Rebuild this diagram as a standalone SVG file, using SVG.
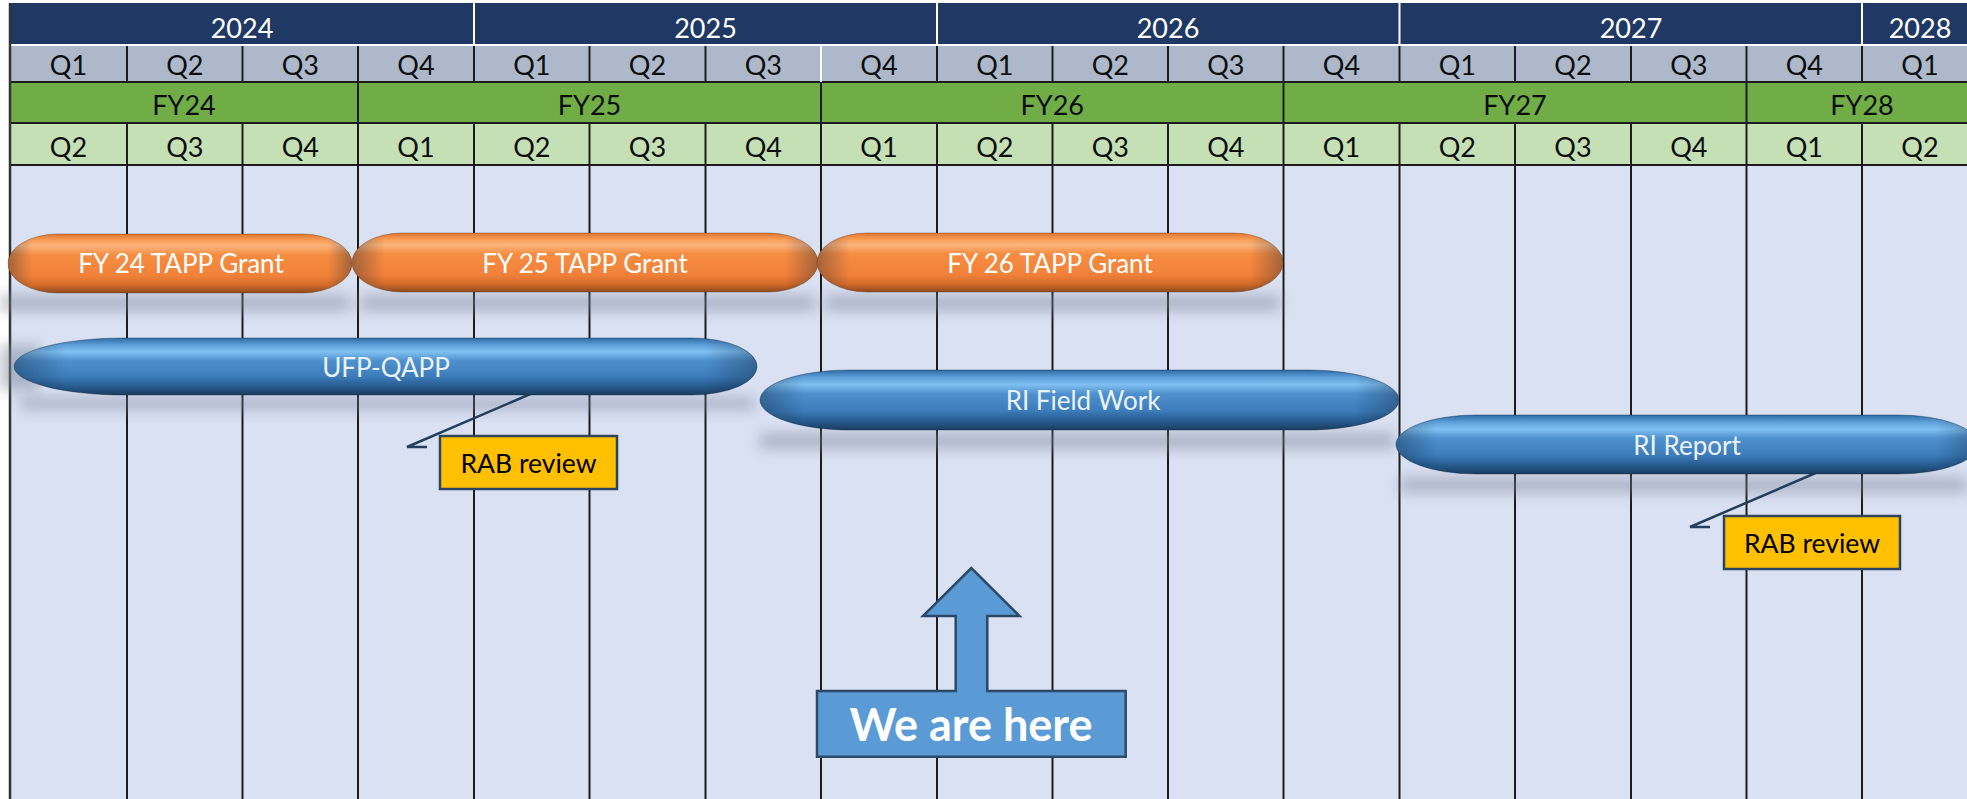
<svg xmlns="http://www.w3.org/2000/svg" width="1967" height="799" viewBox="0 0 1967 799">
<style>
.hdr{font-family:Lato,"Open Sans","DejaVu Sans",sans-serif;font-size:27px;text-anchor:middle;fill:#0d0d0d}
.yr{fill:#ffffff}
.pt{font-family:Lato,"Open Sans","DejaVu Sans",sans-serif;font-size:26px;text-anchor:middle;fill:#ffffff}
.bt{fill:#eaf3fb}
.rab{fill:#ffc000;stroke:#2c4560;stroke-width:2.5}
.rt{font-family:Lato,"Open Sans","DejaVu Sans",sans-serif;font-size:26.5px;text-anchor:middle;fill:#000}
.vl{stroke:#1c1c1c;stroke-width:2}
.wl{stroke:#ffffff;stroke-width:2}
.co{fill:none;stroke:#22405e;stroke-width:2.5;stroke-linejoin:miter}
.ends{fill:url(#ends)}
.rim{fill:none;stroke:#5a2e10;stroke-opacity:0.35;stroke-width:1}
.rimb{fill:none;stroke:#0f2740;stroke-opacity:0.4;stroke-width:1}
.sh{fill:#7d879c;opacity:0.5;filter:url(#blur)}
</style>
<defs>
<linearGradient id="og" x1="0" y1="0" x2="0" y2="1">
<stop offset="0" stop-color="#dd7632"/>
<stop offset="0.1" stop-color="#f99a52"/>
<stop offset="0.2" stop-color="#fcb47c"/>
<stop offset="0.36" stop-color="#f68c40"/>
<stop offset="0.7" stop-color="#f2823a"/>
<stop offset="0.86" stop-color="#d56c2b"/>
<stop offset="1" stop-color="#8e4a1e"/>
</linearGradient>
<linearGradient id="bg" x1="0" y1="0" x2="0" y2="1">
<stop offset="0" stop-color="#2c6aa6"/>
<stop offset="0.12" stop-color="#5d9fd8"/>
<stop offset="0.24" stop-color="#80c0f2"/>
<stop offset="0.4" stop-color="#4e90cd"/>
<stop offset="0.68" stop-color="#3c7cba"/>
<stop offset="0.86" stop-color="#26598c"/>
<stop offset="1" stop-color="#1a3c5e"/>
</linearGradient>
<linearGradient id="ends" x1="0" y1="0" x2="1" y2="0">
<stop offset="0" stop-color="#0b1e33" stop-opacity="0.35"/>
<stop offset="0.07" stop-color="#0b1e33" stop-opacity="0"/>
<stop offset="0.93" stop-color="#0b1e33" stop-opacity="0"/>
<stop offset="1" stop-color="#0b1e33" stop-opacity="0.35"/>
</linearGradient>
<filter id="blur" x="-10%" y="-100%" width="120%" height="300%">
<feGaussianBlur stdDeviation="7"/>
</filter>
</defs>

<g id="grid">
<rect x="10" y="3" width="1957" height="796" fill="#dae1f2"/>
<rect x="10" y="3" width="1957" height="42" fill="#203864"/>
<rect x="10" y="45" width="1957" height="37" fill="#adb9ca"/>
<rect x="10" y="82" width="1957" height="41" fill="#70ad47"/>
<rect x="10" y="123" width="1957" height="42" fill="#c5e0b4"/>
<line class="wl" x1="10" y1="45" x2="1967" y2="45"/>
<g class="wl">
<line x1="474" y1="3" x2="474" y2="45"/>
<line x1="937" y1="3" x2="937" y2="45"/>
<line x1="1399.5" y1="3" x2="1399.5" y2="45"/>
<line x1="1862" y1="3" x2="1862" y2="45"/>
</g>
<line class="vl" x1="10" y1="82" x2="1967" y2="82"/>
<line class="vl" x1="10" y1="123" x2="1967" y2="123"/>
<line class="vl" x1="10" y1="165" x2="1967" y2="165"/>
<g class="vl">
<line x1="127" y1="46" x2="127" y2="82"/>
<line x1="242.5" y1="46" x2="242.5" y2="82"/>
<line x1="358" y1="46" x2="358" y2="82"/>
<line x1="474" y1="46" x2="474" y2="82"/>
<line x1="589.5" y1="46" x2="589.5" y2="82"/>
<line x1="705.5" y1="46" x2="705.5" y2="82"/>
<line x1="937" y1="46" x2="937" y2="82"/>
<line x1="1052.5" y1="46" x2="1052.5" y2="82"/>
<line x1="1168" y1="46" x2="1168" y2="82"/>
<line x1="1283.5" y1="46" x2="1283.5" y2="82"/>
<line x1="1399.5" y1="46" x2="1399.5" y2="82"/>
<line x1="1515" y1="46" x2="1515" y2="82"/>
<line x1="1631" y1="46" x2="1631" y2="82"/>
<line x1="1746.5" y1="46" x2="1746.5" y2="82"/>
<line x1="1862" y1="46" x2="1862" y2="82"/>
<line x1="358" y1="82" x2="358" y2="123"/>
<line x1="821" y1="82" x2="821" y2="123"/>
<line x1="1283.5" y1="82" x2="1283.5" y2="123"/>
<line x1="1746.5" y1="82" x2="1746.5" y2="123"/>
<line x1="127" y1="123" x2="127" y2="799"/>
<line x1="242.5" y1="123" x2="242.5" y2="799"/>
<line x1="358" y1="123" x2="358" y2="799"/>
<line x1="474" y1="123" x2="474" y2="799"/>
<line x1="589.5" y1="123" x2="589.5" y2="799"/>
<line x1="705.5" y1="123" x2="705.5" y2="799"/>
<line x1="821" y1="123" x2="821" y2="799"/>
<line x1="937" y1="123" x2="937" y2="799"/>
<line x1="1052.5" y1="123" x2="1052.5" y2="799"/>
<line x1="1168" y1="123" x2="1168" y2="799"/>
<line x1="1283.5" y1="123" x2="1283.5" y2="799"/>
<line x1="1399.5" y1="123" x2="1399.5" y2="799"/>
<line x1="1515" y1="123" x2="1515" y2="799"/>
<line x1="1631" y1="123" x2="1631" y2="799"/>
<line x1="1746.5" y1="123" x2="1746.5" y2="799"/>
<line x1="1862" y1="123" x2="1862" y2="799"/>
</g>
<line class="wl" x1="821" y1="46" x2="821" y2="82"/>
<line x1="10" y1="3" x2="10" y2="799" stroke="#333" stroke-width="2.5"/>
<g class="hdr yr">
<text x="242" y="38">2024</text>
<text x="705.5" y="38">2025</text>
<text x="1168" y="38">2026</text>
<text x="1631" y="38">2027</text>
<text x="1920" y="38">2028</text>
</g>
<g class="hdr">
<text x="68.5" y="75">Q1</text>
<text x="184.8" y="75">Q2</text>
<text x="300.3" y="75">Q3</text>
<text x="416" y="75">Q4</text>
<text x="531.8" y="75">Q1</text>
<text x="647.5" y="75">Q2</text>
<text x="763.3" y="75">Q3</text>
<text x="879" y="75">Q4</text>
<text x="994.8" y="75">Q1</text>
<text x="1110.3" y="75">Q2</text>
<text x="1225.8" y="75">Q3</text>
<text x="1341.5" y="75">Q4</text>
<text x="1457.3" y="75">Q1</text>
<text x="1573" y="75">Q2</text>
<text x="1688.8" y="75">Q3</text>
<text x="1804.3" y="75">Q4</text>
<text x="1920" y="75">Q1</text>
<text x="184" y="115">FY24</text>
<text x="589.5" y="115">FY25</text>
<text x="1052.3" y="115">FY26</text>
<text x="1515" y="115">FY27</text>
<text x="1862" y="115">FY28</text>
<text x="68.5" y="157">Q2</text>
<text x="184.8" y="157">Q3</text>
<text x="300.3" y="157">Q4</text>
<text x="416" y="157">Q1</text>
<text x="531.8" y="157">Q2</text>
<text x="647.5" y="157">Q3</text>
<text x="763.3" y="157">Q4</text>
<text x="879" y="157">Q1</text>
<text x="994.8" y="157">Q2</text>
<text x="1110.3" y="157">Q3</text>
<text x="1225.8" y="157">Q4</text>
<text x="1341.5" y="157">Q1</text>
<text x="1457.3" y="157">Q2</text>
<text x="1573" y="157">Q3</text>
<text x="1688.8" y="157">Q4</text>
<text x="1804.3" y="157">Q1</text>
<text x="1920" y="157">Q2</text>
</g>
</g>

<g id="shadows">
<rect class="sh" x="0" y="295" width="350" height="16"/>
<rect class="sh" x="360" y="295" width="455" height="16"/>
<rect class="sh" x="825" y="295" width="455" height="16"/>
<rect class="sh" x="0" y="345" width="40" height="45"/>
<rect class="sh" x="20" y="397" width="735" height="13"/>
<rect class="sh" x="760" y="433" width="635" height="16"/>
<rect class="sh" x="1400" y="477" width="567" height="16"/>
</g>

<g id="connectors">
<polyline class="co" points="542,389 407,447 427,447"/>
<polyline class="co" points="1825,469 1690,527 1710,527"/>
</g>

<g id="fy24-grant">
<path d="M58,234 H302 A50,29.5 0 0 1 302,293 H58 A50,29.5 0 0 1 58,234 Z" fill="url(#og)"/>
<path class="ends" d="M58,234 H302 A50,29.5 0 0 1 302,293 H58 A50,29.5 0 0 1 58,234 Z"/>
<path class="rim" d="M58,234 H302 A50,29.5 0 0 1 302,293 H58 A50,29.5 0 0 1 58,234 Z"/>
<text class="pt" x="181" y="273">FY 24 TAPP Grant</text>
</g>
<g id="fy25-grant">
<path d="M402,233 H768 A50,29.5 0 0 1 768,292 H402 A50,29.5 0 0 1 402,233 Z" fill="url(#og)"/>
<path class="ends" d="M402,233 H768 A50,29.5 0 0 1 768,292 H402 A50,29.5 0 0 1 402,233 Z"/>
<path class="rim" d="M402,233 H768 A50,29.5 0 0 1 768,292 H402 A50,29.5 0 0 1 402,233 Z"/>
<text class="pt" x="585" y="273">FY 25 TAPP Grant</text>
</g>
<g id="fy26-grant">
<path d="M867,233 H1233 A50,29.5 0 0 1 1233,292 H867 A50,29.5 0 0 1 867,233 Z" fill="url(#og)"/>
<path class="ends" d="M867,233 H1233 A50,29.5 0 0 1 1233,292 H867 A50,29.5 0 0 1 867,233 Z"/>
<path class="rim" d="M867,233 H1233 A50,29.5 0 0 1 1233,292 H867 A50,29.5 0 0 1 867,233 Z"/>
<text class="pt" x="1050" y="273">FY 26 TAPP Grant</text>
</g>
<g id="ufp-qapp">
<path d="M124,338 H692 A65,28.5 0 0 1 692,395 H124 A110,28.5 0 0 1 124,338 Z" fill="url(#bg)"/>
<path class="ends" d="M124,338 H692 A65,28.5 0 0 1 692,395 H124 A110,28.5 0 0 1 124,338 Z"/>
<path class="rimb" d="M124,338 H692 A65,28.5 0 0 1 692,395 H124 A110,28.5 0 0 1 124,338 Z"/>
<text class="pt bt" x="386" y="377">UFP-QAPP</text>
</g>
<g id="ri-field-work">
<path d="M850,370 H1308 A91,30 0 0 1 1308,430 H850 A90,30 0 0 1 850,370 Z" fill="url(#bg)"/>
<path class="ends" d="M850,370 H1308 A91,30 0 0 1 1308,430 H850 A90,30 0 0 1 850,370 Z"/>
<path class="rimb" d="M850,370 H1308 A91,30 0 0 1 1308,430 H850 A90,30 0 0 1 850,370 Z"/>
<text class="pt bt" x="1083" y="410">RI Field Work</text>
</g>
<g id="ri-report">
<path d="M1476,415 H1898 A80,29.5 0 0 1 1898,474 H1476 A80,29.5 0 0 1 1476,415 Z" fill="url(#bg)"/>
<path class="ends" d="M1476,415 H1898 A80,29.5 0 0 1 1898,474 H1476 A80,29.5 0 0 1 1476,415 Z"/>
<path class="rimb" d="M1476,415 H1898 A80,29.5 0 0 1 1898,474 H1476 A80,29.5 0 0 1 1476,415 Z"/>
<text class="pt bt" x="1687" y="455">RI Report</text>
</g>
<g id="rab-review-1">
<rect class="rab" x="440" y="436" width="177" height="53"/>
<text class="rt" x="528.5" y="473">RAB review</text>
</g>
<g id="rab-review-2">
<rect class="rab" x="1724" y="516" width="176" height="53"/>
<text class="rt" x="1812" y="552.5">RAB review</text>
</g>
<g id="we-are-here">
<path d="M817,691 H955.7 V616 H923 L971.3,568 L1019.5,616 H987.3 V691 H1125.7 V756.7 H817 Z" fill="#5b9bd5" stroke="#2c4a68" stroke-width="2.5"/>
<text x="971" y="741" font-family="Lato,'Open Sans','DejaVu Sans',sans-serif" font-size="45" font-weight="bold" text-anchor="middle" fill="#ffffff">We are here</text>
</g>
</svg>
